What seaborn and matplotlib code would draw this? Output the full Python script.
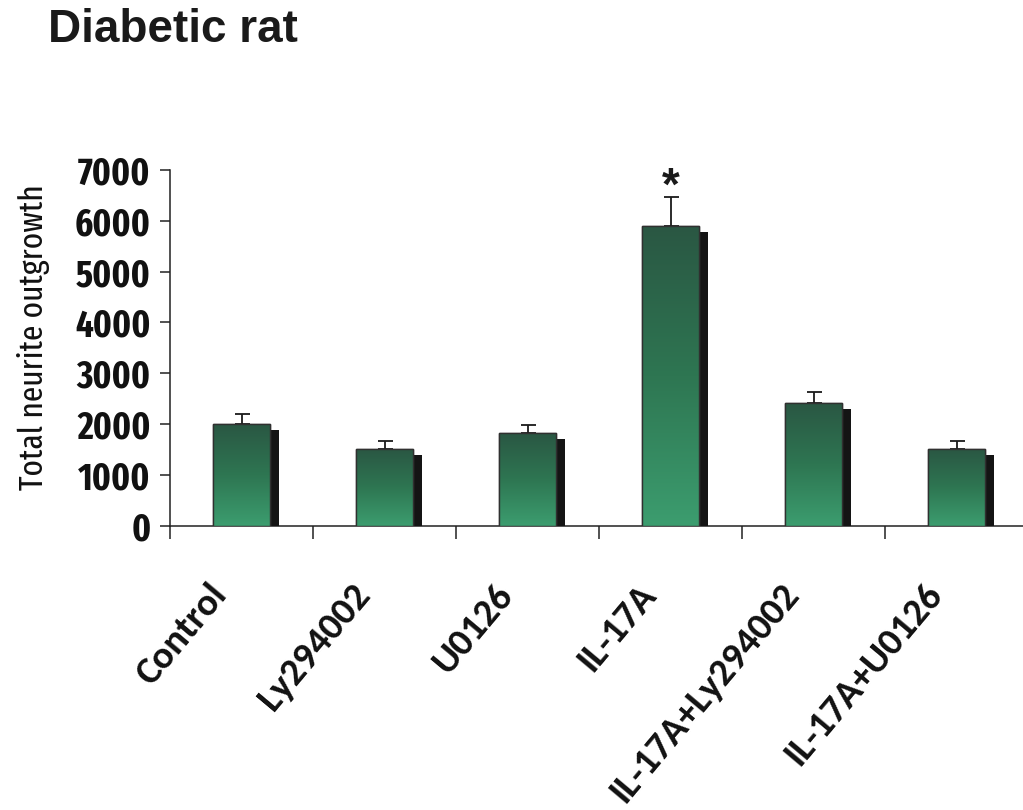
import numpy as np
import pandas as pd
import matplotlib
matplotlib.use("Agg")
import matplotlib.pyplot as plt
import matplotlib.patheffects as pe
import matplotlib.transforms as mtransforms
from matplotlib.colors import LinearSegmentedColormap
import seaborn as sns

# ---- data ----
categories = ["Control", "Ly294002", "U0126", "IL-17A", "IL-17A+Ly294002", "IL-17A+U0126"]
means = [2000, 1510, 1820, 5890, 2410, 1510]
errors = [200, 160, 160, 590, 220, 160]
y_ticks = [0, 1000, 2000, 3000, 4000, 5000, 6000, 7000]
title = "Diabetic rat"
ylabel = "Total neurite outgrowth"
star_index = 3

narrow = "Fira Sans Extra Condensed"
xfont = "Carlito"

sns.set_theme(style="ticks")
plt.rcParams["font.family"] = ["Liberation Sans", "DejaVu Sans"]

fig = plt.figure(figsize=(10.23, 8.10), dpi=100)
ax = fig.add_axes([0.1662, 0.351, 0.8338, 0.439])

df = pd.DataFrame({"cat": categories, "val": means})
sns.barplot(data=df, x="cat", y="val", ax=ax, color="#2f7a52", width=0.40,
            edgecolor="#303030", linewidth=1.0, errorbar=None, zorder=3)

cmap = LinearSegmentedColormap.from_list("g", ["#2a5743", "#2e7652", "#3c9d6f"])
grad = np.linspace(0, 1, 256).reshape(-1, 1)
for p in ax.patches:
    p.set_path_effects([pe.SimplePatchShadow(offset=(6.5, -4.3), shadow_rgbFace="#141414", alpha=1.0),
                        pe.Normal()])
    x0, y0 = p.get_x(), p.get_y()
    w, h = p.get_width(), p.get_height()
    im = ax.imshow(grad, cmap=cmap, aspect="auto", extent=(x0, x0 + w, y0, y0 + h),
                   origin="upper", zorder=3.5)
    im.set_clip_path(p)
    edge = plt.Rectangle((x0, y0), w, h, fill=False, edgecolor="#303030", linewidth=1.0, zorder=3.6)
    ax.add_patch(edge)

xs = np.arange(len(categories))
ax.errorbar(xs, means, yerr=[np.zeros(len(means)), errors], fmt="none", ecolor="#1a1a1a",
            elinewidth=1.3, capsize=5.4, capthick=1.3, zorder=2)

ax.annotate("*", xy=(xs[star_index], means[star_index] + errors[star_index]),
            xytext=(0, 6), textcoords="offset points", ha="center", va="center",
            fontsize=33, fontweight="bold", color="#1a1a1a", family="Liberation Sans")

ax.set_xlim(-0.5, -0.5 + 853 / 143)
ax.set_ylim(0, 7000)
ax.set_yticks(y_ticks)
ax.set_yticklabels([str(v) for v in y_ticks], fontsize=27, fontweight="bold",
                   family=narrow, color="#111111")
ax.tick_params(axis="y", direction="out", length=7, width=1.1, pad=7, color="#222222")

ax.set_xticks(xs)
ax.set_xticklabels(categories, rotation=50, ha="right", va="center", rotation_mode="anchor",
                   fontsize=28, fontweight="bold", family=xfont, color="#111111")
ax.tick_params(axis="x", which="major", length=0, pad=45)
shift = mtransforms.ScaledTranslation(-21 / 100, 0, fig.dpi_scale_trans)
for lab in ax.get_xticklabels():
    lab.set_transform(lab.get_transform() + shift)
ax.set_xticks(np.arange(-0.5, 5.0, 1.0), minor=True)
ax.tick_params(axis="x", which="minor", direction="out", length=9, width=1.1, color="#222222")

ax.set_xlabel("")
ax.set_ylabel(ylabel, fontsize=24.5, family=narrow, color="#111111")
ax.yaxis.set_label_coords(-0.141, 0.53)

for s in ["top", "right"]:
    ax.spines[s].set_visible(False)
for s in ["left", "bottom"]:
    ax.spines[s].set_linewidth(1.1)
    ax.spines[s].set_color("#222222")
ax.set_facecolor("white")

fig.text(0.047, 0.948, title, fontsize=33, fontweight="bold", color="#1a1a1a",
         ha="left", va="baseline", family="Liberation Sans")

fig.savefig("out.png", dpi=100, facecolor="white")
